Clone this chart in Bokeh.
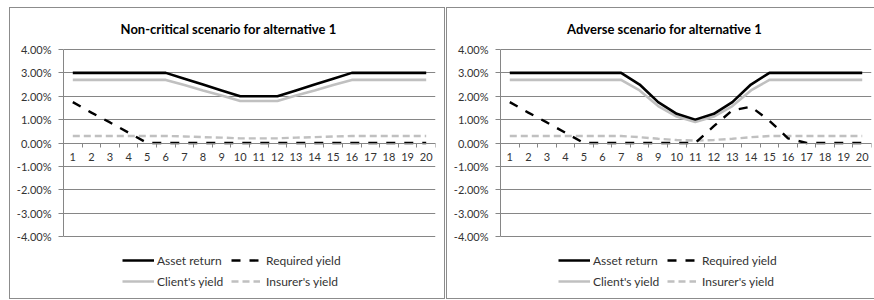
from bokeh.plotting import figure
from bokeh.models import FixedTicker, Legend, LegendItem, Label, PrintfTickFormatter
from bokeh.layouts import row
from bokeh.embed import file_html
from bokeh.resources import INLINE

# ---------------- data ----------------
periods = list(range(1, 21))
y_ticks = [-4, -3, -2, -1, 0, 1, 2, 3, 4]

titles = ["Non-critical scenario for alternative 1", "Adverse scenario for alternative 1"]
series_names = ["Asset return", "Required yield", "Client's yield", "Insurer's yield"]

# Non-critical scenario (values in %)
nc_asset = [3.0, 3.0, 3.0, 3.0, 3.0, 3.0, 2.75, 2.5, 2.25, 2.0, 2.0, 2.0, 2.25, 2.5, 2.75, 3.0, 3.0, 3.0, 3.0, 3.0]
nc_required = [1.75, 1.3, 0.88, 0.44, 0.0, 0.0, 0.0, 0.0, 0.0, 0.0, 0.0, 0.0, 0.0, 0.0, 0.0, 0.0, 0.0, 0.0, 0.0, 0.0]
nc_client = [2.7, 2.7, 2.7, 2.7, 2.7, 2.7, 2.48, 2.25, 2.03, 1.8, 1.8, 1.8, 2.03, 2.25, 2.48, 2.7, 2.7, 2.7, 2.7, 2.7]
nc_insurer = [0.3, 0.3, 0.3, 0.3, 0.3, 0.3, 0.28, 0.25, 0.23, 0.2, 0.2, 0.2, 0.23, 0.25, 0.28, 0.3, 0.3, 0.3, 0.3, 0.3]

# Adverse scenario (values in %)
ad_asset = [3.0, 3.0, 3.0, 3.0, 3.0, 3.0, 3.0, 2.5, 1.75, 1.25, 1.0, 1.25, 1.75, 2.5, 3.0, 3.0, 3.0, 3.0, 3.0, 3.0]
ad_required = [1.75, 1.3, 0.88, 0.44, 0.0, 0.0, 0.0, 0.0, 0.0, 0.0, 0.0, 0.72, 1.4, 1.55, 0.95, 0.2, 0.0, 0.0, 0.0, 0.0]
ad_client = [2.7, 2.7, 2.7, 2.7, 2.7, 2.7, 2.7, 2.25, 1.58, 1.13, 0.9, 1.13, 1.58, 2.25, 2.7, 2.7, 2.7, 2.7, 2.7, 2.7]
ad_insurer = [0.3, 0.3, 0.3, 0.3, 0.3, 0.3, 0.3, 0.25, 0.18, 0.13, 0.1, 0.13, 0.18, 0.25, 0.3, 0.3, 0.3, 0.3, 0.3, 0.3]

# ---------------- style ----------------
GRID = "#868686"
EDGE = "#8c8c8c"
TEXT = "#333333"
FONT = "Lato"
BLACK = "#000000"
LIGHT = "#c0c0c0"

HEIGHT = 292
PX_PER_UNIT = 187 / 8.0     # plot-area height spans -4 .. 4
TOP_PX = 41                 # 4% line from the top of the chart box


def make_legend(items, dx, dy, glyph_width, standoff):
    return Legend(items=items, orientation="vertical", location=(dx, dy),
                  padding=0, margin=0, spacing=5,
                  glyph_width=glyph_width, glyph_height=16, label_height=16, label_width=20,
                  label_standoff=standoff, label_text_align="left", label_text_baseline="middle",
                  label_text_font=FONT, label_text_font_size="12px", label_text_color=TEXT,
                  border_line_color=None, background_fill_color=None)


def make_chart(title, asset, required, client, insurer, width, frame_left, frame_right,
               title_dx, legend_dx, border_css, margin):
    y_top = 4 + TOP_PX / PX_PER_UNIT
    y_bot = -4 - (HEIGHT - TOP_PX - 187) / PX_PER_UNIT
    p = figure(width=width, height=HEIGHT, x_range=(0.5, 20.5), y_range=(y_bot, y_top),
               output_backend="svg", toolbar_location=None,
               min_border_left=frame_left, min_border_top=0,
               min_border_right=width - frame_right, min_border_bottom=0)
    p.outline_line_color = None
    p.background_fill_color = "white"
    p.border_fill_color = "white"
    p.styles = border_css
    p.margin = margin

    # y axis (only -4% .. 4%)
    ya = p.yaxis[0]
    ya.bounds = (-4, 4)
    ya.ticker = FixedTicker(ticks=y_ticks)
    ya.formatter = PrintfTickFormatter(format="%.2f%%")
    ya.axis_line_color = GRID
    ya.major_tick_line_color = GRID
    ya.major_tick_in = 0
    ya.major_tick_out = 5
    ya.minor_tick_line_color = None
    ya.major_label_standoff = 7
    ya.major_label_text_font = FONT
    ya.major_label_text_font_size = "11px"
    ya.major_label_text_color = TEXT

    # x axis drawn at y = 0
    xa = p.xaxis[0]
    xa.fixed_location = 0
    xa.ticker = FixedTicker(ticks=periods, minor_ticks=[i + 0.5 for i in range(0, 21)])
    xa.axis_line_color = GRID
    xa.major_tick_line_color = None
    xa.major_tick_in = 0
    xa.major_tick_out = 0
    xa.minor_tick_line_color = GRID
    xa.minor_tick_in = 0
    xa.minor_tick_out = 4
    xa.major_label_standoff = 6
    xa.major_label_text_font = FONT
    xa.major_label_text_font_size = "11px"
    xa.major_label_text_color = TEXT

    p.xgrid.visible = False
    p.ygrid.ticker = FixedTicker(ticks=y_ticks)
    p.ygrid.grid_line_color = GRID
    p.ygrid.grid_line_width = 1

    r_client = p.line(periods, client, line_color=LIGHT, line_width=2.6)
    r_insurer = p.line(periods, insurer, line_color=LIGHT, line_width=2.4, line_dash="7 4")
    r_required = p.line(periods, required, line_color=BLACK, line_width=2.4, line_dash="9 9")
    r_asset = p.line(periods, asset, line_color=BLACK, line_width=2.6)

    renderers = dict(zip(series_names, [r_asset, r_required, r_client, r_insurer]))
    dy = HEIGHT - (TOP_PX + 187) - 16 - 37   # legend block 16px under the plot area
    col1 = [LegendItem(label=n, renderers=[renderers[n]]) for n in (series_names[0], series_names[2])]
    col2 = [LegendItem(label=n, renderers=[renderers[n]]) for n in (series_names[1], series_names[3])]
    p.add_layout(make_legend(col1, legend_dx, dy, 32, 3))
    p.add_layout(make_legend(col2, legend_dx + 109, dy, 29, 6))

    p.add_layout(Label(x=0.5, y=4, x_offset=title_dx, y_offset=21, text=title,
                       text_align="center", text_baseline="middle",
                       text_font=FONT, text_font_style="bold", text_font_size="13px",
                       text_color="#000000"))
    return p


border_full = {"border": "1px solid " + EDGE}
border_open = {"border-top": "1px solid " + EDGE, "border-left": "1px solid " + EDGE,
               "border-bottom": "1px solid " + EDGE}

p1 = make_chart(titles[0], nc_asset, nc_required, nc_client, nc_insurer,
                436, 53, 425, 165, 59, border_full, (7, 0, 0, 9))
p2 = make_chart(titles[1], ad_asset, ad_required, ad_client, ad_insurer,
                428, 53, 424, 164, 58, border_open, (7, 0, 0, 1))

layout = row(p1, p2, spacing=0)
open("out.html", "w").write(file_html(layout, INLINE))
